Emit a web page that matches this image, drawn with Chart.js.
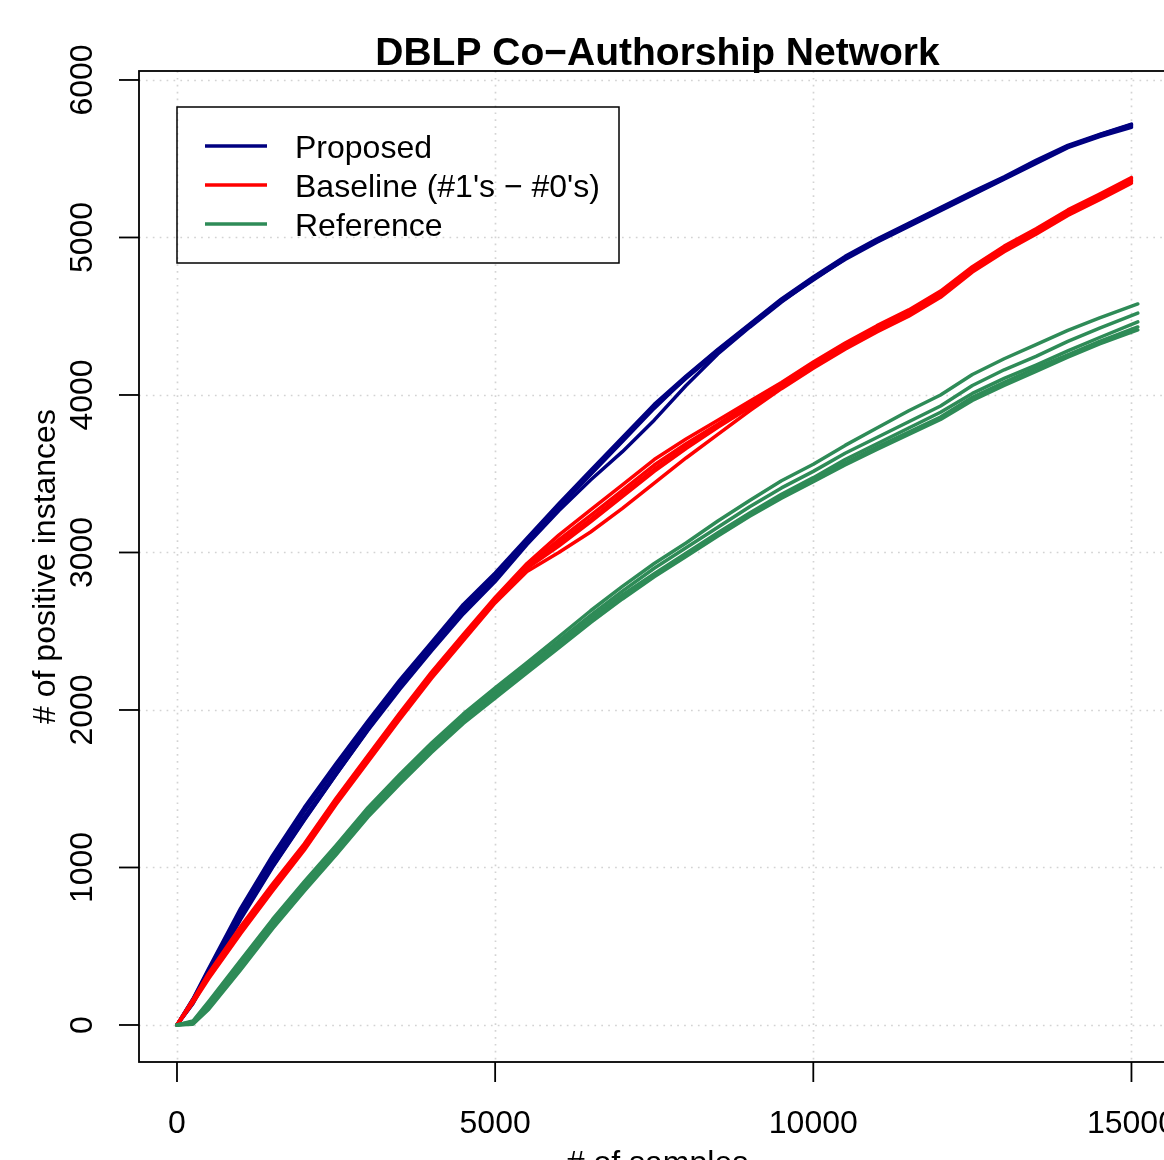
<!DOCTYPE html>
<html>
<head>
<meta charset="utf-8">
<title>DBLP Co-Authorship Network</title>
<script src="https://cdn.jsdelivr.net/npm/chart.js@4.4.1/dist/chart.umd.min.js"></script>
<style>
  html, body { margin: 0; padding: 0; background: #fff; overflow: hidden; }
  #wrap { width: 1164px; height: 1160px; overflow: hidden; }
  canvas { display: block; }
</style>
</head>
<body>
<div id="wrap"><canvas id="chart" width="1240" height="1160"></canvas></div>
<script>
const samples = [0, 250, 500, 1000, 1500, 2000, 2500, 3000, 3500, 4000, 4500, 5000, 5500, 6000, 6500, 7000,
  7500, 8000, 8500, 9000, 9500, 10000, 10500, 11000, 11500, 12000, 12500, 13000, 13500, 14000, 14500, 15000];
// the reference runs go a little further to the right
const refSamples = [0, 250, 500, 1000, 1500, 2000, 2500, 3000, 3500, 4000, 4500, 5000, 5500, 6000, 6500, 7000,
  7500, 8000, 8500, 9000, 9500, 10000, 10500, 11000, 11500, 12000, 12500, 13000, 13500, 14000, 14500, 15100];

// Proposed: 5 runs
const proposedRuns = [
  [0,165,360,740,1075,1380,1660,1930,2190,2430,2670,2870,3090,3310,3520,3730,3940,4120,4290,4450,4610,4750,4880,4990,5090,5190,5290,5385,5490,5585,5655,5720],
  [0,160,350,720,1045,1355,1630,1905,2170,2405,2650,2845,3075,3295,3505,3720,3930,4115,4285,4445,4605,4745,4875,4985,5085,5185,5285,5380,5480,5580,5650,5712],
  [0,150,335,695,1020,1320,1600,1880,2140,2390,2625,2830,3065,3285,3495,3705,3915,4110,4280,4440,4600,4740,4870,4975,5075,5175,5275,5375,5475,5575,5645,5705],
  [0,140,320,680,1005,1305,1590,1870,2130,2375,2610,2815,3050,3265,3460,3640,3840,4060,4260,4430,4590,4735,4860,4970,5070,5170,5270,5370,5470,5570,5640,5700],
  [0,135,315,670,1000,1300,1590,1875,2145,2395,2635,2835,3070,3290,3500,3710,3925,4105,4275,4435,4595,4730,4865,4980,5080,5180,5275,5378,5478,5578,5652,5716]
];

// Baseline (#1's - #0's): 5 runs
const baselineRuns = [
  [0,160,330,625,895,1150,1440,1710,1980,2240,2480,2715,2930,3110,3270,3430,3590,3720,3840,3960,4080,4210,4330,4440,4540,4660,4815,4945,5055,5175,5275,5380],
  [0,155,320,615,885,1140,1430,1700,1970,2230,2470,2705,2915,3080,3235,3395,3555,3690,3815,3945,4070,4200,4320,4430,4530,4650,4805,4935,5045,5165,5265,5372],
  [0,150,310,600,870,1125,1415,1685,1955,2215,2455,2695,2905,3060,3210,3370,3530,3670,3800,3935,4065,4195,4310,4420,4515,4640,4795,4925,5035,5155,5255,5362],
  [0,140,295,580,850,1110,1400,1670,1940,2200,2440,2680,2880,3000,3130,3280,3440,3600,3750,3900,4040,4170,4290,4400,4500,4620,4780,4910,5020,5140,5240,5345],
  [0,150,310,600,870,1130,1420,1690,1960,2220,2460,2700,2900,3040,3195,3355,3515,3660,3795,3920,4050,4180,4300,4410,4510,4630,4790,4920,5030,5150,5250,5358]
];

// Reference: 5 runs
const referenceRuns = [
  [0,25,150,410,670,910,1140,1380,1590,1790,1975,2140,2300,2465,2630,2785,2930,3060,3200,3330,3455,3560,3680,3790,3900,4000,4130,4230,4320,4410,4490,4578],
  [0,20,140,395,655,895,1125,1365,1575,1775,1960,2120,2280,2440,2600,2755,2900,3030,3160,3290,3410,3515,3630,3730,3830,3930,4060,4160,4245,4340,4425,4520],
  [0,15,125,380,640,880,1110,1350,1560,1760,1945,2100,2260,2420,2580,2730,2865,2995,3125,3250,3370,3475,3590,3690,3790,3890,4010,4105,4190,4280,4365,4464],
  [0,10,110,360,620,860,1090,1330,1540,1740,1925,2085,2245,2405,2565,2715,2855,2985,3115,3240,3355,3460,3570,3670,3765,3860,3985,4080,4170,4255,4340,4432],
  [0,5,100,350,610,850,1080,1320,1530,1730,1915,2075,2235,2395,2555,2705,2845,2975,3105,3230,3345,3450,3555,3655,3750,3845,3965,4060,4150,4240,4325,4413]
];

const xTicks = [0, 5000, 10000, 15000];
const yTicks = [0, 1000, 2000, 3000, 4000, 5000, 6000];

const legendLabels = ['Proposed', 'Baseline (#1\'s \u2212 #0\'s)', 'Reference'];
const seriesColors = ['#000080', '#ff0000', '#2e8b57'];

const FONT = '"Liberation Sans", Arial, Helvetica, sans-serif';

function toPoints(xs, ys) {
  return ys.map((y, i) => ({ x: xs[i], y: y }));
}

function makeDatasets(runs, xs, color, label, order) {
  return runs.map((run, i) => ({
    label: label + ' ' + (i + 1),
    data: toPoints(xs, run),
    borderColor: color,
    backgroundColor: color,
    borderWidth: 3.5,
    pointRadius: 0,
    tension: 0,
    fill: false,
    borderJoinStyle: 'round',
    borderCapStyle: 'round',
    order: order
  }));
}

const datasets = [].concat(
  makeDatasets(proposedRuns, samples, seriesColors[0], legendLabels[0], 3),
  makeDatasets(baselineRuns, samples, seriesColors[1], legendLabels[1], 2),
  makeDatasets(referenceRuns, refSamples, seriesColors[2], legendLabels[2], 1)
);

// R style frame: dotted grid, box, outside ticks, rotated y labels, title, legend
const rFrame = {
  id: 'rFrame',
  beforeDatasetsDraw(chart) {
    const { ctx, chartArea: a, scales: { x, y } } = chart;
    ctx.save();
    ctx.strokeStyle = '#d3d3d3';
    ctx.lineWidth = 1.7;
    ctx.setLineDash([1.7, 5.2]);
    xTicks.forEach(v => {
      const px = Math.round(x.getPixelForValue(v)) + 0.5;
      ctx.beginPath(); ctx.moveTo(px, a.top); ctx.lineTo(px, a.bottom); ctx.stroke();
    });
    yTicks.forEach(v => {
      const py = Math.round(y.getPixelForValue(v)) + 0.5;
      ctx.beginPath(); ctx.moveTo(a.left, py); ctx.lineTo(a.right, py); ctx.stroke();
    });
    ctx.restore();
  },
  afterDatasetsDraw(chart) {
    const { ctx, chartArea: a, scales: { x, y } } = chart;
    ctx.save();
    ctx.setLineDash([]);
    ctx.strokeStyle = '#000';
    ctx.lineWidth = 1.8;
    ctx.strokeRect(a.left, a.top, a.right - a.left, a.bottom - a.top);

    // x axis
    ctx.fillStyle = '#000';
    ctx.font = '32px ' + FONT;
    ctx.textAlign = 'center';
    ctx.textBaseline = 'alphabetic';
    xTicks.forEach(v => {
      const px = x.getPixelForValue(v);
      ctx.beginPath(); ctx.moveTo(px, a.bottom); ctx.lineTo(px, a.bottom + 20); ctx.stroke();
      ctx.fillText(String(v), px, 1133);
    });
    ctx.fillText('# of samples', (a.left + a.right) / 2, 1173);

    // y axis
    yTicks.forEach(v => {
      const py = y.getPixelForValue(v);
      ctx.beginPath(); ctx.moveTo(a.left, py); ctx.lineTo(a.left - 20, py); ctx.stroke();
      ctx.save();
      ctx.translate(92, py);
      ctx.rotate(-Math.PI / 2);
      ctx.fillText(String(v), 0, 0);
      ctx.restore();
    });
    ctx.save();
    ctx.translate(55, (a.top + a.bottom) / 2);
    ctx.rotate(-Math.PI / 2);
    ctx.fillText('# of positive instances', 0, 0);
    ctx.restore();

    // title
    ctx.font = 'bold 39px ' + FONT;
    ctx.fillText('DBLP Co\u2212Authorship Network', (a.left + a.right) / 2, 65);

    // legend
    ctx.lineWidth = 1.5;
    ctx.strokeRect(177, 107, 442, 156);
    ctx.font = '32px ' + FONT;
    ctx.textAlign = 'left';
    const rowY = [146, 185, 224];
    legendLabels.forEach((lab, i) => {
      ctx.strokeStyle = seriesColors[i];
      ctx.lineWidth = 3.5;
      ctx.beginPath(); ctx.moveTo(205, rowY[i]); ctx.lineTo(267, rowY[i]); ctx.stroke();
      ctx.fillText(lab, 295, rowY[i] + 12);
    });
    ctx.restore();
  }
};

new Chart(document.getElementById('chart'), {
  type: 'line',
  data: { datasets: datasets },
  options: {
    responsive: false,
    animation: false,
    layout: { padding: { left: 139, top: 71, right: 64, bottom: 98 } },
    scales: {
      x: { type: 'linear', min: -597, max: 15700, display: false },
      y: { type: 'linear', min: -235, max: 6057, display: false }
    },
    plugins: {
      legend: { display: false },
      tooltip: { enabled: false },
      title: { display: false }
    }
  },
  plugins: [rFrame]
});
</script>
</body>
</html>
